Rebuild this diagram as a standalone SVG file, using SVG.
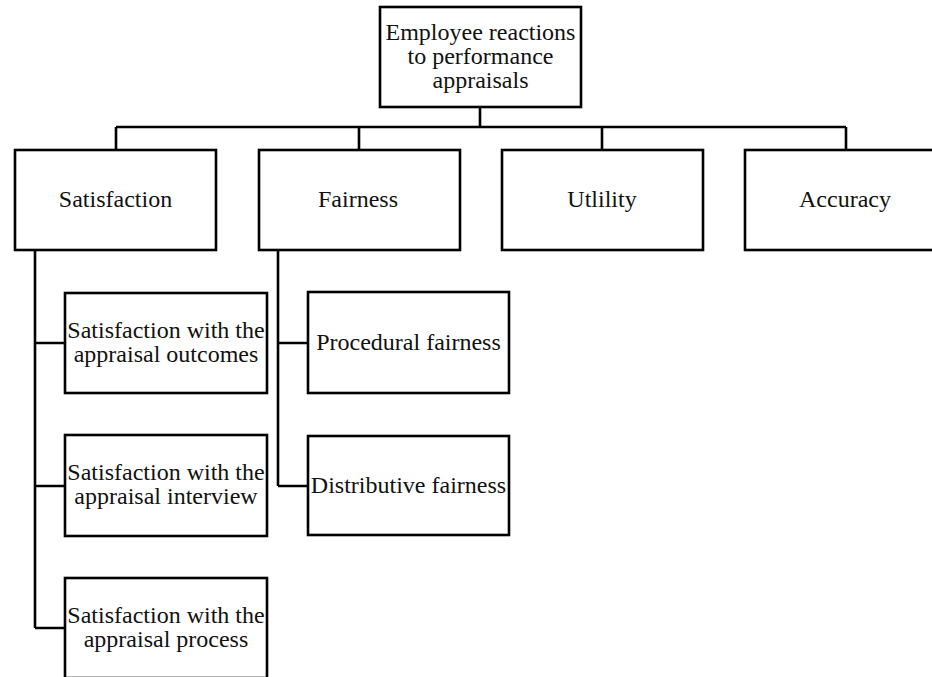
<svg xmlns="http://www.w3.org/2000/svg" width="932" height="677" viewBox="0 0 932 677">
<style>
.box{fill:#fff;stroke:#000;stroke-width:2.6}
.ln{fill:none;stroke:#000;stroke-width:2.6}
text{font-family:"Liberation Serif","Times New Roman",serif;font-size:24px;fill:#111;text-anchor:middle}
</style>
<rect width="932" height="677" fill="#fff"/>
<g id="connectors">
<path class="ln" d="M480,107 V127 M116,127 H846 M116,127 V150 M359,127 V150 M602,127 V150 M846,127 V150"/>
<path class="ln" d="M35,250 V628 M35,343 H65 M35,486 H65 M35,628 H65"/>
<path class="ln" d="M278,250 V486 M278,343 H308 M278,486 H308"/>
</g>
<g id="root"><rect class="box" x="380" y="7" width="201" height="100"/>
<text x="480.5" y="40">Employee reactions</text><text x="480.5" y="64">to performance</text><text x="480.5" y="88">appraisals</text></g>
<g id="satisfaction"><rect class="box" x="15" y="150" width="201" height="100"/><text x="115.5" y="207">Satisfaction</text></g>
<g id="fairness"><rect class="box" x="259" y="150" width="201" height="100"/><text x="358" y="207">Fairness</text></g>
<g id="utility"><rect class="box" x="502" y="150" width="201" height="100"/><text x="602" y="207">Utlility</text></g>
<g id="accuracy"><rect class="box" x="745" y="150" width="201" height="100"/><text x="845" y="207">Accuracy</text></g>
<g id="sat-outcomes"><rect class="box" x="65" y="293" width="202" height="100"/><text x="166" y="338">Satisfaction with the</text><text x="166" y="362">appraisal outcomes</text></g>
<g id="sat-interview"><rect class="box" x="65" y="435" width="202" height="101"/><text x="166" y="480">Satisfaction with the</text><text x="166" y="504">appraisal interview</text></g>
<g id="sat-process"><rect class="box" x="65" y="578" width="202" height="100"/><text x="166" y="623">Satisfaction with the</text><text x="166" y="647">appraisal process</text></g>
<g id="procedural"><rect class="box" x="308" y="292" width="201" height="101"/><text x="408.5" y="350">Procedural fairness</text></g>
<g id="distributive"><rect class="box" x="308" y="436" width="201" height="99"/><text x="408.5" y="493">Distributive fairness</text></g>
</svg>
